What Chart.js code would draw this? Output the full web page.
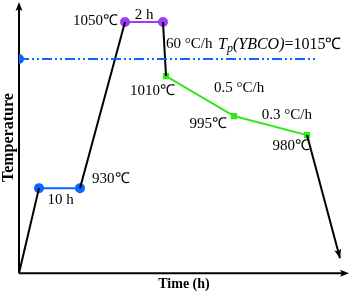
<!DOCTYPE html>
<html>
<head>
<meta charset="utf-8">
<script src="https://cdn.jsdelivr.net/npm/chart.js@4.4.0/dist/chart.umd.min.js"></script>
<style>
  html, body { margin: 0; padding: 0; background: #fff; }
  #wrap { width: 350px; height: 295px; }
</style>
</head>
<body>
<div id="wrap"><canvas id="profile"></canvas></div>
<script>
// schematic heating profile (arbitrary time / temperature units)
const timeH = [0, 20, 61, 106, 144, 147, 215, 288, 321];
const tempLevel = [0, 85, 85, 251, 251, 197, 157, 138, 15];
const peritecticTime = [0, 298];
const peritecticLevel = [214, 214];
const xTitle = 'Time (h)';
const yTitle = 'Temperature';

const BLACK = '#000';
const BLUE = '#0a66ff';
const PURPLE = '#9d3cf6';
const GREEN = '#2ee81a';
const FONT = '"Liberation Serif", "Times New Roman", serif';

function seg(from, to) {
    const pts = [];
    for (let i = from; i <= to; i++) pts.push({x: timeH[i], y: tempLevel[i]});
    return pts;
}

// labels anchored on profile points: [text, point index (or mid of two), dx, dy, align]
const notes = [
    ['1050℃', 3, -7, -1, 'right'],
    ['2 h', [3, 4], 0, -7, 'center'],
    ['60 °C/h', 4, 3, 22, 'left'],
    ['1010℃', 5, 9, 15, 'right'],
    ['0.5 °C/h', 6, -20, -28, 'left'],
    ['995℃', 6, -7, 8, 'right'],
    ['0.3 °C/h', 7, 5, -20, 'right'],
    ['980℃', 7, 3, 11, 'right'],
    ['930℃', 2, 12, -9, 'left'],
    ['10 h', [1, 2], 1, 12, 'center']
];

function arrowHead(ctx, tipX, tipY, angle) {
    ctx.save();
    ctx.translate(tipX, tipY);
    ctx.rotate(angle);
    ctx.beginPath();
    ctx.moveTo(0, 0);
    ctx.lineTo(-9, -3.5);
    ctx.lineTo(-7, 0);
    ctx.lineTo(-9, 3.5);
    ctx.closePath();
    ctx.fillStyle = BLACK;
    ctx.fill();
    ctx.restore();
}

const decorations = {
    id: 'decorations',
    beforeDatasetsDraw(chart) {
        const {ctx, chartArea: a} = chart;
        ctx.save();
        ctx.strokeStyle = BLACK;
        ctx.lineWidth = 2;
        ctx.beginPath();
        ctx.moveTo(a.left, a.bottom);
        ctx.lineTo(a.left, a.top + 4);
        ctx.moveTo(a.left, a.bottom);
        ctx.lineTo(a.right - 4, a.bottom);
        ctx.stroke();
        arrowHead(ctx, a.left, a.top, -Math.PI / 2);
        arrowHead(ctx, a.right, a.bottom, 0);
        ctx.restore();
    },
    afterDatasetsDraw(chart) {
        const {ctx} = chart;
        const xs = chart.scales.x, ys = chart.scales.y;
        const px = i => xs.getPixelForValue(timeH[i]);
        const py = i => ys.getPixelForValue(tempLevel[i]);
        ctx.save();

        // arrow on the cooling line
        const n = timeH.length - 1;
        const ang = Math.atan2(py(n) - py(n - 1), px(n) - px(n - 1));
        arrowHead(ctx, px(n), py(n), ang);

        ctx.fillStyle = BLACK;
        ctx.textBaseline = 'middle';
        ctx.font = '15px ' + FONT;
        notes.forEach(([text, idx, dx, dy, align]) => {
            let x, y;
            if (Array.isArray(idx)) {
                x = (px(idx[0]) + px(idx[1])) / 2;
                y = (py(idx[0]) + py(idx[1])) / 2;
            } else {
                x = px(idx); y = py(idx);
            }
            ctx.textAlign = align;
            ctx.fillText(text, x + dx, y + dy);
        });

        // Tp(YBCO)=1015℃ label above the dash-dot line
        const lx = xs.getPixelForValue(peritecticTime[1]) - 99;
        const ly = ys.getPixelForValue(peritecticLevel[1]) - 14;
        ctx.textAlign = 'left';
        let cx = lx;
        const runs = [
            ['italic 16px ' + FONT, 'T', 0],
            ['italic 12px ' + FONT, 'p', 4],
            ['italic 16px ' + FONT, '(YBCO)', 0],
            ['16px ' + FONT, '=1015℃', 0]
        ];
        runs.forEach(([f, t, off]) => {
            ctx.font = f;
            ctx.fillText(t, cx, ly + off);
            cx += ctx.measureText(t).width;
        });
        ctx.restore();
    }
};

const lineDs = (data, color, extra) => Object.assign({
    data: data,
    borderColor: color,
    backgroundColor: color,
    borderWidth: 2,
    pointRadius: 0,
    showLine: true,
    fill: false,
    tension: 0
}, extra || {});

const ctx = document.getElementById('profile').getContext('2d');
new Chart(ctx, {
    type: 'scatter',
    data: {
        datasets: [
            lineDs(peritecticTime.map((t, i) => ({x: t, y: peritecticLevel[i]})), BLUE, {
                borderDash: [10, 3, 2, 3, 2, 3],
                pointRadius: [4, 0]
            }),
            lineDs(seg(0, 1), BLACK),
            lineDs(seg(2, 3), BLACK),
            lineDs(seg(4, 5), BLACK),
            lineDs(seg(7, 8), BLACK),
            lineDs(seg(1, 2), BLUE, {pointRadius: 4}),
            lineDs(seg(3, 4), PURPLE, {pointRadius: 4}),
            lineDs(seg(5, 7), GREEN, {pointRadius: 3, pointStyle: 'rect'})
        ]
    },
    options: {
        responsive: true,
        maintainAspectRatio: false,
        animation: false,
        layout: { autoPadding: false, padding: {top: 2, right: 1, left: 0, bottom: 0} },
        plugins: {
            legend: { display: false },
            tooltip: { enabled: false }
        },
        scales: {
            x: {
                type: 'linear',
                min: 0,
                max: 330,
                grid: { display: false, drawTicks: false },
                border: { display: false },
                ticks: { display: false },
                title: {
                    display: true,
                    text: xTitle,
                    color: BLACK,
                    font: { family: FONT, size: 14, weight: 'bold' },
                    padding: { top: 3, bottom: 2 }
                }
            },
            y: {
                type: 'linear',
                min: 0,
                max: 271,
                grid: { display: false, drawTicks: false },
                border: { display: false },
                ticks: { display: false },
                title: {
                    display: true,
                    text: yTitle,
                    color: BLACK,
                    font: { family: FONT, size: 16, weight: 'bold', lineHeight: 1 },
                    padding: { top: 1, bottom: 2 }
                }
            }
        }
    },
    plugins: [decorations]
});
</script>
</body>
</html>
